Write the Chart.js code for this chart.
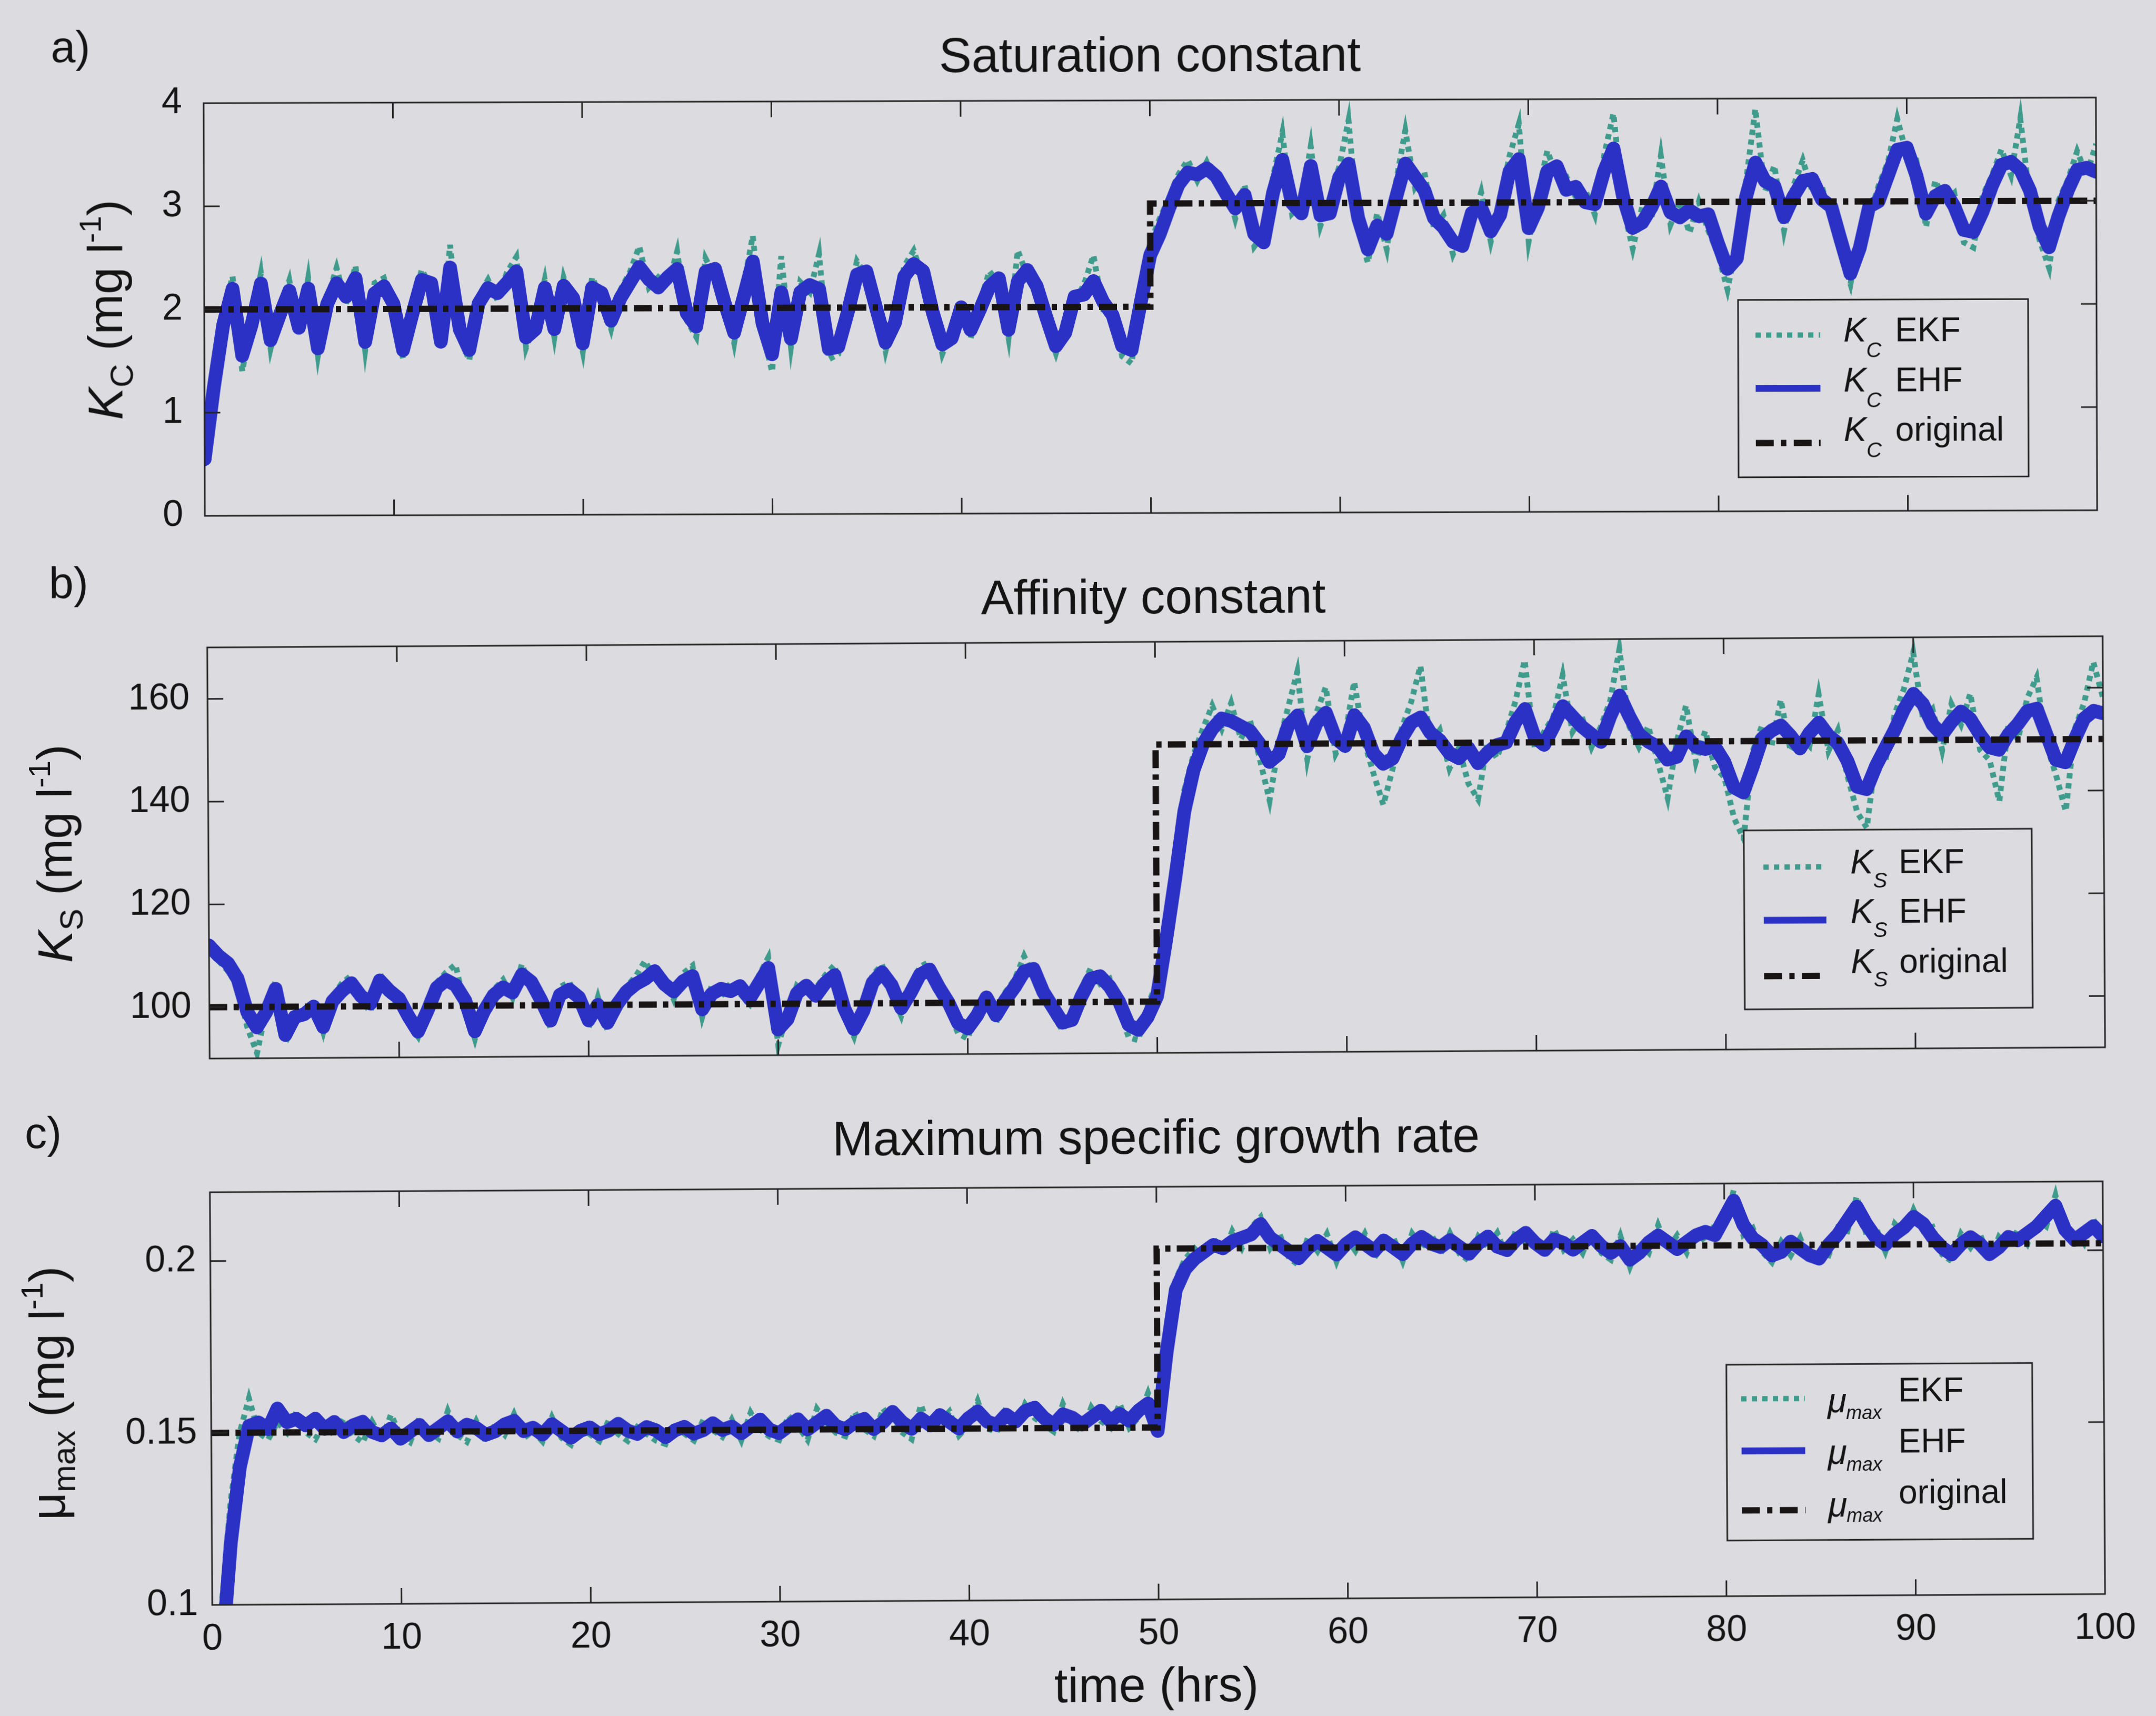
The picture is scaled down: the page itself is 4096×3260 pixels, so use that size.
<!DOCTYPE html>
<html>
<head>
<meta charset="utf-8">
<script src="https://cdn.jsdelivr.net/npm/chart.js@4.4.1/dist/chart.umd.min.js"></script>
<style>
  html, body { margin: 0; padding: 0; background: #dcdbe0; }
  #sheet { position: relative; width: 4096px; height: 3260px; overflow: hidden; background: #dcdbe0; }
  #sheet canvas { position: absolute; left: 0; top: 0; }
</style>
</head>
<body>
<div id="sheet">
  <canvas id="panelA" width="4096" height="3260"></canvas>
  <canvas id="panelB" width="4096" height="3260"></canvas>
  <canvas id="panelC" width="4096" height="3260"></canvas>
</div>
<script>
// ---------- time grid (hours, every half hour) ----------
const times = Array.from({ length: 201 }, (_, i) => i * 0.5);
const timeTicks = [0, 10, 20, 30, 40, 50, 60, 70, 80, 90, 100];

// ---------- a) saturation constant K_C ----------
const kcTicks = [0, 1, 2, 3, 4];
const kcOrigT = [0, 50, 50, 100];
const kcOrigV = [2, 2, 3, 3];
const kcEHF = [
  0.55,1.25,1.85,2.20,1.55,1.85,2.25,1.70,1.95,2.18,
  1.82,2.20,1.62,2.05,2.25,2.12,2.30,1.68,2.15,2.22,
  2.05,1.60,1.95,2.28,2.25,1.68,2.40,1.80,1.60,2.05,
  2.20,2.15,2.25,2.36,1.72,1.80,2.20,1.80,2.22,2.10,
  1.66,2.20,2.15,1.88,2.10,2.25,2.40,2.28,2.20,2.30,
  2.38,1.95,1.82,2.35,2.38,2.05,1.76,2.10,2.45,1.85,
  1.55,2.15,1.70,2.15,2.22,2.18,1.60,1.62,1.95,2.32,
  2.35,2.00,1.66,1.85,2.30,2.42,2.35,1.95,1.64,1.70,
  2.00,1.78,1.98,2.20,2.28,1.78,2.25,2.36,2.20,1.90,
  1.62,1.75,2.10,2.12,2.25,2.05,1.92,1.62,1.58,2.05,
  2.50,2.70,2.95,3.18,3.30,3.28,3.34,3.26,3.10,2.95,
  3.08,2.70,2.62,3.10,3.42,3.00,2.90,3.36,2.88,2.90,
  3.25,3.38,2.85,2.55,2.78,2.70,3.05,3.38,3.25,3.12,
  2.85,2.76,2.62,2.58,2.90,2.95,2.72,2.88,3.30,3.42,
  2.75,2.95,3.30,3.35,3.12,3.15,3.00,2.98,3.30,3.52,
  3.05,2.75,2.80,2.95,3.15,2.90,2.85,2.92,2.86,2.88,
  2.60,2.35,2.45,3.05,3.38,3.20,3.15,2.85,3.05,3.20,
  3.22,3.02,2.95,2.62,2.30,2.55,2.95,3.00,3.25,3.50,
  3.52,3.25,2.88,3.05,3.10,2.95,2.72,2.70,2.90,3.15,
  3.35,3.38,3.30,3.10,2.75,2.55,2.85,3.10,3.30,3.32,
  3.28
];
const kcEKF = [
  0.60,1.40,1.95,2.32,1.40,1.90,2.35,1.62,2.00,2.28,
  1.75,2.30,1.55,2.10,2.40,2.05,2.42,1.60,2.25,2.30,
  1.98,1.52,2.05,2.38,2.20,1.62,2.62,1.72,1.50,2.12,
  2.28,2.08,2.35,2.50,1.62,1.88,2.28,1.72,2.30,2.02,
  1.58,2.30,2.10,1.80,2.18,2.35,2.60,2.20,2.30,2.22,
  2.55,1.88,1.72,2.48,2.30,2.12,1.66,2.20,2.70,1.78,
  1.38,2.50,1.62,2.25,2.15,2.52,1.50,1.55,2.05,2.45,
  2.30,2.10,1.58,1.95,2.40,2.55,2.28,2.05,1.55,1.78,
  1.92,1.70,2.05,2.35,2.22,1.70,2.55,2.30,2.28,1.82,
  1.55,1.85,2.05,2.22,2.50,1.98,2.00,1.52,1.45,2.15,
  2.62,2.85,3.05,3.28,3.42,3.22,3.40,3.18,3.20,2.85,
  3.18,2.58,2.70,3.25,3.68,2.90,3.00,3.55,2.78,3.05,
  3.35,3.80,2.75,2.42,2.90,2.55,3.20,3.70,3.15,3.30,
  2.75,2.88,2.50,2.70,2.78,3.10,2.62,3.00,3.45,3.76,
  2.62,3.08,3.50,3.25,3.25,3.05,3.12,2.88,3.45,3.86,
  2.95,2.55,2.95,2.85,3.45,2.78,3.00,2.70,3.00,2.72,
  2.50,2.15,2.60,3.20,3.90,3.10,3.35,2.72,3.15,3.40,
  3.10,3.15,2.82,2.50,2.20,2.70,2.85,3.15,3.38,3.80,
  3.45,3.40,2.75,3.20,3.00,3.08,2.60,2.55,3.05,3.25,
  3.50,3.25,3.80,3.00,2.62,2.35,3.00,3.20,3.48,3.25,
  3.55
];

// ---------- b) affinity constant K_S ----------
const ksTicks = [100, 120, 140, 160];
const ksOrigT = [0, 50, 50, 100];
const ksOrigV = [100, 100, 150, 150];
const ksEHF = [
  112,110,108.5,105.5,99,96,99,103.5,94.5,98,
  98.5,100,96,101,103,104.5,102,100.5,105,103,
  101.5,98,95,99,103.5,105,104,101,95,99,
  102,103.5,102.5,106,104.5,101,97,102,103,101.5,
  97,100,96.5,100,102.5,104,105,106.5,104,102.5,
  104.5,105.5,99,102,103,102.5,103.5,101,104,107,
  95,97,102,103.5,101.5,104,105.5,99,95,98.5,
  104,106,103.5,99,102,105.5,106.5,103,100,96,
  95,97.5,101,97.5,100.5,103,106,106.5,102,99,
  96,96.5,101,104.5,105,103,100,95.5,94.5,97,
  101,112,124,137,145,150,153,155,154.5,153.5,
  152.5,150,146.5,148,153.5,155.5,149.5,154,156,151,
  149.5,155.5,153,148,146,147,151,154,155,152,
  150.5,148,147,149,146,148,149.5,150,154,156.5,
  151,149.5,153,157,155,153,151.5,150,155,159,
  155,151.5,150,149,146.5,147,151,149,148.5,149,
  146,141,140,145,150.5,152,153,151,148.5,151.5,
  153.5,151,149.5,146,141,140.5,145,148.5,152,156,
  159,157,153,151,153.5,155.5,154,151,148.5,148,
  151,153,155.5,156,151,146,145.5,150,154,155.5,
  155
];
const ksEKF = [
  112.5,109,107,104,96,91,99.5,105,93,97,
  99.5,101,95,102,104.5,106,101,99,106.5,102,
  100,96.5,94,100,104.5,106.5,108,99.5,93.5,100,
  103,105,101.5,108,103,100,95.5,103.5,104.5,100,
  95.5,101.5,95,101,103.5,105.5,108.5,105,105.5,101,
  106,107.5,97.5,103.5,101.5,104,102,100,105.5,109,
  92,98,103.5,102,103,105.5,107.5,97.5,93.5,100,
  105.5,107.5,102,97.5,103.5,107,108,101.5,98.5,94,
  93,99,99.5,96,102,104.5,109,105,103.5,97.5,
  94.5,98,102.5,106.5,103.5,104.5,98.5,93,92.5,99,
  104,116,129,141,148,153,157.5,153,158,151,
  154.5,147,139,150,157,164,147,156,161,148,
  151.5,162,150.5,144,138,145,153,158,165,150,
  152.5,145,149,142,139,150,147,152,158,166,
  149,152,155,163,152,155,149,153,158,168,
  153,149,153,146,139,150,157,146,152,145,
  143,135,131,148,153,149,158,148,151,149,
  159,148,152,143,136,133,147,146,155,160,
  167,154,156,148,157,153,159,148,146,138,
  153,150,158,162,149,143,136,152,157,165,
  158
];

// ---------- c) maximum specific growth rate mu_max ----------
const muTicks = [0.1, 0.15, 0.2];
const muOrigT = [0, 50, 50, 100];
const muOrigV = [0.15, 0.15, 0.202, 0.202];
const muEHF = [
  0.060,0.085,0.118,0.140,0.152,0.153,0.151,0.157,0.153,0.154,
  0.152,0.154,0.151,0.153,0.150,0.152,0.153,0.150,0.149,0.151,
  0.148,0.150,0.152,0.149,0.151,0.153,0.150,0.152,0.151,0.149,
  0.150,0.152,0.153,0.150,0.151,0.149,0.152,0.150,0.148,0.150,
  0.151,0.149,0.150,0.152,0.150,0.149,0.151,0.150,0.148,0.150,
  0.151,0.149,0.150,0.152,0.150,0.151,0.149,0.151,0.153,0.150,
  0.149,0.151,0.153,0.150,0.152,0.154,0.151,0.150,0.152,0.153,
  0.150,0.152,0.155,0.152,0.150,0.153,0.151,0.154,0.152,0.150,
  0.153,0.155,0.152,0.151,0.154,0.152,0.155,0.156,0.153,0.151,
  0.154,0.153,0.151,0.153,0.155,0.152,0.154,0.152,0.155,0.157,
  0.149,0.172,0.190,0.196,0.199,0.201,0.203,0.202,0.204,0.205,
  0.206,0.209,0.205,0.203,0.201,0.199,0.202,0.204,0.202,0.200,
  0.203,0.205,0.203,0.201,0.204,0.202,0.200,0.203,0.205,0.203,
  0.202,0.204,0.202,0.200,0.203,0.205,0.202,0.201,0.204,0.206,
  0.203,0.201,0.204,0.203,0.201,0.203,0.205,0.202,0.200,0.202,
  0.198,0.200,0.203,0.205,0.203,0.201,0.203,0.205,0.206,0.205,
  0.210,0.215,0.208,0.204,0.202,0.199,0.200,0.203,0.201,0.199,
  0.198,0.202,0.205,0.209,0.213,0.208,0.204,0.202,0.205,0.207,
  0.210,0.208,0.204,0.201,0.199,0.202,0.204,0.202,0.199,0.201,
  0.204,0.203,0.205,0.207,0.210,0.213,0.206,0.203,0.205,0.207,
  0.204
];
const muEKF = [
  0.070,0.100,0.130,0.150,0.160,0.150,0.148,0.153,0.150,0.156,
  0.150,0.148,0.153,0.149,0.154,0.149,0.147,0.153,0.148,0.155,
  0.149,0.147,0.154,0.150,0.148,0.156,0.149,0.147,0.153,0.147,
  0.152,0.149,0.155,0.148,0.150,0.147,0.154,0.148,0.146,0.152,
  0.149,0.147,0.153,0.149,0.147,0.151,0.149,0.147,0.146,0.152,
  0.149,0.147,0.153,0.150,0.148,0.153,0.147,0.155,0.150,0.148,
  0.147,0.154,0.151,0.147,0.156,0.152,0.149,0.148,0.155,0.150,
  0.148,0.156,0.152,0.149,0.147,0.157,0.149,0.152,0.155,0.148,
  0.151,0.158,0.150,0.149,0.156,0.150,0.157,0.153,0.151,0.149,
  0.157,0.151,0.149,0.156,0.152,0.150,0.157,0.150,0.153,0.160,
  0.152,0.180,0.193,0.199,0.202,0.199,0.205,0.200,0.207,0.202,
  0.208,0.211,0.202,0.206,0.199,0.197,0.205,0.201,0.206,0.198,
  0.205,0.201,0.206,0.199,0.203,0.205,0.198,0.206,0.202,0.206,
  0.200,0.206,0.200,0.198,0.205,0.202,0.206,0.199,0.207,0.203,
  0.205,0.199,0.207,0.201,0.204,0.200,0.207,0.200,0.198,0.205,
  0.196,0.203,0.200,0.208,0.201,0.205,0.200,0.207,0.203,0.208,
  0.207,0.218,0.205,0.207,0.200,0.197,0.203,0.199,0.204,0.197,
  0.200,0.199,0.207,0.206,0.216,0.205,0.207,0.200,0.208,0.205,
  0.212,0.206,0.207,0.199,0.197,0.205,0.201,0.205,0.197,0.204,
  0.201,0.206,0.202,0.209,0.207,0.216,0.204,0.206,0.202,0.209,
  0.203
];

const legendNames = ['EKF', 'EHF', 'original'];

// ---------- styling ----------
const FONT = '"Liberation Sans", Arial, Helvetica, sans-serif';
const BG = '#dcdbe0';
const INK = '#141414';
const FRAME = '#242424';
const TEAL = '#3f9b8b';
const BLUE = '#2a31c4';
const DARK = '#181414';
const W = 4096, H = 3260;
Chart.defaults.font.family = FONT;

function series(vals) { return vals.map((v, i) => ({ x: times[i], y: v })); }
function steps(ts, vs) { return ts.map((t, i) => ({ x: t, y: vs[i] })); }
function fnt(size, italic) { return (italic ? 'italic ' : '') + size + 'px ' + FONT; }

// draws a sequence of text runs (sub/superscripts via dy)
function drawRuns(ctx, runs, x, y, align) {
  const widths = runs.map(r => { ctx.font = fnt(r.size, r.italic); return ctx.measureText(r.t).width; });
  const total = widths.reduce((a, b) => a + b, 0);
  let cx = align === 'center' ? x - total / 2 : x;
  runs.forEach((r, i) => { ctx.font = fnt(r.size, r.italic); ctx.fillText(r.t, cx, y + (r.dy || 0)); cx += widths[i]; });
}

const sampleStyles = [
  { color: TEAL, width: 10, dash: [10, 10] },
  { color: BLUE, width: 13, dash: [] },
  { color: DARK, width: 12, dash: [34, 14, 10, 14] }
];

function makeDecor(p) {
  // the sheet is slightly skewed; text placed on the right is lowered to keep its page position
  const s = Math.sin(Math.abs(p.tilt) * Math.PI / 180);
  const lift = (x, y) => y + (x - p.area.L) * s;
  return {
    id: 'decor_' + p.id,
    afterDraw(chart) {
      const ctx = chart.ctx, a = chart.chartArea;
      const xs = chart.scales.x, ys = chart.scales.y;
      ctx.save();
      ctx.textBaseline = 'alphabetic';

      // legend
      const L = p.legend;
      const ly = lift(L.x + L.w / 2, L.y);
      ctx.fillStyle = BG;
      ctx.fillRect(L.x, ly, L.w, L.h);
      ctx.strokeStyle = FRAME; ctx.lineWidth = 3; ctx.setLineDash([]);
      ctx.strokeRect(L.x, ly, L.w, L.h);
      for (let r = 0; r < 3; r++) {
        const st = sampleStyles[r];
        ctx.save();
        ctx.strokeStyle = st.color; ctx.lineWidth = st.width; ctx.lineCap = 'butt'; ctx.setLineDash(st.dash);
        ctx.beginPath();
        ctx.moveTo(L.x + L.s0, ly + L.sy[r]); ctx.lineTo(L.x + L.s1, ly + L.sy[r]);
        ctx.stroke();
        ctx.restore();
        ctx.fillStyle = INK;
        ctx.font = fnt(L.symSize, true);
        ctx.fillText(L.sym, L.x + L.symX, ly + L.symY[r]);
        const subX = L.subX !== undefined ? L.x + L.subX : L.x + L.symX + ctx.measureText(L.sym).width;
        ctx.font = fnt(L.subSize, true);
        ctx.fillText(L.sub, subX, ly + L.subY[r]);
        ctx.font = fnt(64, false);
        ctx.fillText(legendNames[r], L.x + L.nameX, ly + L.nameY[r]);
      }

      // axes box with inward ticks on all four sides
      ctx.strokeStyle = FRAME; ctx.lineWidth = 3; ctx.setLineDash([]);
      ctx.strokeRect(a.left, a.top, a.right - a.left, a.bottom - a.top);
      const TL = 30;
      ctx.beginPath();
      timeTicks.forEach(v => {
        if (v <= xs.min || v >= xs.max) return;
        const px = xs.getPixelForValue(v);
        ctx.moveTo(px, a.bottom); ctx.lineTo(px, a.bottom - TL);
        ctx.moveTo(px, a.top); ctx.lineTo(px, a.top + TL);
      });
      p.yTicks.forEach(v => {
        if (v <= ys.min || v >= ys.max) return;
        const py = ys.getPixelForValue(v);
        ctx.moveTo(a.left, py); ctx.lineTo(a.left + TL, py);
        ctx.moveTo(a.right, py); ctx.lineTo(a.right - TL, py);
      });
      ctx.stroke();

      // panel letter, title, axis titles
      ctx.fillStyle = INK;
      ctx.textAlign = 'left';
      ctx.font = fnt(84, false);
      ctx.fillText(p.letter.t, p.letter.x, lift(p.letter.x, p.letter.y));
      ctx.textAlign = 'center';
      ctx.font = fnt(93, false);
      ctx.fillText(p.title.t, p.title.x, lift(p.title.x, p.title.y));
      ctx.textAlign = 'left';
      ctx.save();
      ctx.translate(p.yTitle.x, p.yTitle.y);
      ctx.rotate(-Math.PI / 2);
      drawRuns(ctx, p.yTitle.runs, 0, 0, 'center');
      ctx.restore();
      if (p.xTitle) {
        ctx.textAlign = 'center';
        ctx.font = fnt(92, false);
        ctx.fillText(p.xTitle.t, p.xTitle.x, lift(p.xTitle.x, p.xTitle.y));
      }
      ctx.restore();
    }
  };
}

const panels = [
  {
    id: 'panelA', ekf: kcEKF, ehf: kcEHF, origT: kcOrigT, origV: kcOrigV, tilt: -0.17,
    yMin: 0, yMax: 4, yTicks: kcTicks, area: { L: 388, R: 3983, T: 196, B: 980 }, tickPad: 41, showTime: false,
    letter: { t: 'a)', x: 98, y: 118 },
    title: { t: 'Saturation constant', x: 2186, y: 136 },
    yTitle: { x: 232, y: 588, runs: [
      { t: 'K', size: 92, italic: true }, { t: 'C', size: 62, dy: 20 }, { t: ' (mg l', size: 92 },
      { t: '-1', size: 58, dy: -40 }, { t: ')', size: 92 } ] },
    legend: { x: 3302, y: 569, w: 551, h: 337, s0: 33, s1: 156, sy: [67, 168, 272],
      sym: 'K', symSize: 65, symX: 200, symY: [80, 175, 269], sub: 'C', subSize: 40, subY: [110, 205, 300],
      nameX: 298, nameY: [80, 175, 269] }
  },
  {
    id: 'panelB', ekf: ksEKF, ehf: ksEHF, origT: ksOrigT, origV: ksOrigV, tilt: -0.34,
    yMin: 90, yMax: 170, yTicks: ksTicks, area: { L: 396, R: 3997, T: 1230, B: 2011 }, tickPad: 34, showTime: false,
    letter: { t: 'b)', x: 96, y: 1137 },
    title: { t: 'Affinity constant', x: 2194, y: 1165 },
    yTitle: { x: 136, y: 1620, runs: [
      { t: 'K', size: 92, italic: true }, { t: 'S', size: 62, dy: 20 }, { t: ' (mg l', size: 92 },
      { t: '-1', size: 58, dy: -40 }, { t: ')', size: 92 } ] },
    legend: { x: 3313, y: 1576, w: 547, h: 340, s0: 37, s1: 156, sy: [70, 171, 277],
      sym: 'K', symSize: 65, symX: 202, symY: [83, 177, 272], sub: 'S', subSize: 40, subY: [110, 204, 298],
      nameX: 294, nameY: [83, 177, 272] }
  },
  {
    id: 'panelC', ekf: muEKF, ehf: muEHF, origT: muOrigT, origV: muOrigV, tilt: -0.33,
    yMin: 0.1, yMax: 0.22, yTicks: muTicks, area: { L: 401, R: 3997, T: 2265, B: 3049 }, tickPad: 27, showTime: true,
    letter: { t: 'c)', x: 50, y: 2181 },
    title: { t: 'Maximum specific growth rate', x: 2199, y: 2192 },
    yTitle: { x: 122, y: 2645, runs: [
      { t: 'μ', size: 92 }, { t: 'max', size: 62, dy: 20 }, { t: ' (mg l', size: 92 },
      { t: '-1', size: 58, dy: -40 }, { t: ')', size: 92 } ] },
    xTitle: { t: 'time (hrs)', x: 2194, y: 3233 },
    legend: { x: 3280, y: 2591, w: 581, h: 334, s0: 28, s1: 149, sy: [65, 164, 277],
      sym: 'μ', symSize: 66, symX: 192, symY: [92, 190, 290], sub: 'max', subSize: 36, subX: 227, subY: [105, 203, 300],
      nameX: 326, nameY: [72, 169, 266] }
  }
];

panels.forEach(p => {
  const xH = p.showTime ? 120 : 0;
  const yW = 300;
  const canvas = document.getElementById(p.id);
  canvas.style.transformOrigin = p.area.L + 'px ' + ((p.area.T + p.area.B) / 2) + 'px';
  canvas.style.transform = 'rotate(' + p.tilt + 'deg)';
  new Chart(canvas, {
    type: 'line',
    data: {
      datasets: [
        { label: 'EKF', data: series(p.ekf), borderColor: TEAL, borderWidth: 11, borderDash: [10, 9],
          borderCapStyle: 'butt', pointRadius: 0, tension: 0, fill: false, clip: 0, order: 3 },
        { label: 'EHF', data: series(p.ehf), borderColor: BLUE, borderWidth: 26, borderJoinStyle: 'round',
          borderCapStyle: 'round', pointRadius: 0, tension: 0, fill: false, clip: 0, order: 2 },
        { label: 'original', data: steps(p.origT, p.origV), borderColor: DARK, borderWidth: 12,
          borderDash: [34, 12, 10, 12], borderCapStyle: 'butt', pointRadius: 0, tension: 0, fill: false, clip: 0, order: 1 }
      ]
    },
    options: {
      responsive: false, animation: false, devicePixelRatio: 1, events: [],
      layout: { padding: { left: p.area.L - yW, right: W - p.area.R, top: p.area.T, bottom: H - p.area.B - xH } },
      scales: {
        x: {
          type: 'linear', min: 0, max: 100,
          afterBuildTicks: s => { s.ticks = timeTicks.map(v => ({ value: v })); },
          afterFit: s => { s.height = xH; },
          grid: { display: false, drawTicks: false }, border: { display: false },
          ticks: { display: p.showTime, color: INK, font: { family: FONT, size: 70 }, padding: 24, maxRotation: 0, autoSkip: false }
        },
        y: {
          type: 'linear', min: p.yMin, max: p.yMax,
          afterBuildTicks: s => { s.ticks = p.yTicks.map(v => ({ value: v })); },
          afterFit: s => { s.width = yW; },
          grid: { display: false, drawTicks: false }, border: { display: false },
          ticks: { color: INK, font: { family: FONT, size: 70 }, padding: p.tickPad, autoSkip: false, callback: v => String(v) }
        }
      },
      plugins: { legend: { display: false }, tooltip: { enabled: false }, title: { display: false } }
    },
    plugins: [makeDecor(p)]
  });
});
</script>
</body>
</html>
